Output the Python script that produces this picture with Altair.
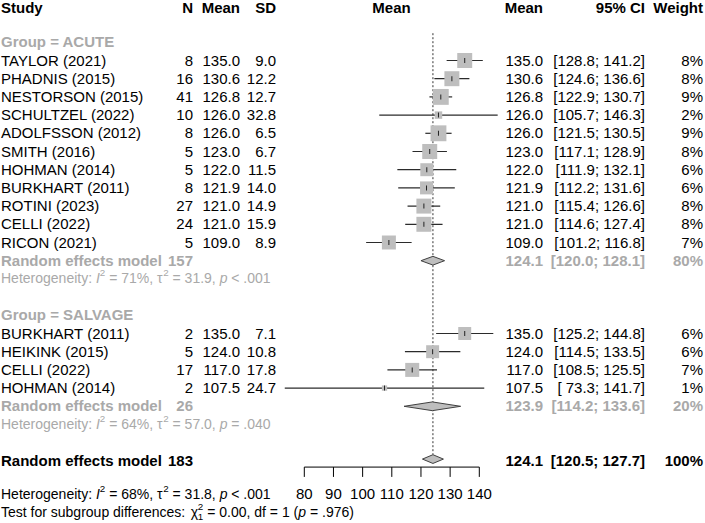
import altair as alt
import pandas as pd

# ---- study-level data -------------------------------------------------
acute_study = ["TAYLOR (2021)", "PHADNIS (2015)", "NESTORSON (2015)", "SCHULTZEL (2022)",
               "ADOLFSSON (2012)", "SMITH (2016)", "HOHMAN (2014)", "BURKHART (2011)",
               "ROTINI (2023)", "CELLI (2022)", "RICON (2021)"]
acute_n = [8, 16, 41, 10, 8, 5, 5, 8, 27, 24, 5]
acute_mean = [135.0, 130.6, 126.8, 126.0, 126.0, 123.0, 122.0, 121.9, 121.0, 121.0, 109.0]
acute_sd = [9.0, 12.2, 12.7, 32.8, 6.5, 6.7, 11.5, 14.0, 14.9, 15.9, 8.9]
acute_lo = [128.8, 124.6, 122.9, 105.7, 121.5, 117.1, 111.9, 112.2, 115.4, 114.6, 101.2]
acute_hi = [141.2, 136.6, 130.7, 146.3, 130.5, 128.9, 132.1, 131.6, 126.6, 127.4, 116.8]
acute_weight = [8, 8, 9, 2, 9, 8, 6, 6, 8, 8, 7]

salvage_study = ["BURKHART (2011)", "HEIKINK (2015)", "CELLI (2022)", "HOHMAN (2014)"]
salvage_n = [2, 5, 17, 2]
salvage_mean = [135.0, 124.0, 117.0, 107.5]
salvage_sd = [7.1, 10.8, 17.8, 24.7]
salvage_lo = [125.2, 114.5, 108.5, 73.3]
salvage_hi = [144.8, 133.5, 125.5, 141.7]
salvage_weight = [6, 6, 7, 1]

# pooled random-effects estimates: ACUTE, SALVAGE, overall
pooled_n = [157, 26, 183]
pooled_mean = [124.1, 123.9, 124.1]
pooled_lo = [120.0, 114.2, 120.5]
pooled_hi = [128.1, 133.6, 127.7]
pooled_weight = [80, 20, 100]
het_i2 = [71, 64, 68]
het_tau2 = [31.9, 57.0, 31.8]
het_p = ["< .001", "= .040", "< .001"]
subgroup_chi2 = "0.00"
subgroup_df = 1
subgroup_p = ".976"

axis_ticks = [80, 90, 100, 110, 120, 130, 140]

# ---- layout -------------------------------------------------------------
W, H = 705, 523
FONT = "Liberation Sans"
GREY = "#a9a9a9"
BLACK = "#000000"
ROW_H = 18.2
ROW0_PX = 60.5
Y0 = -ROW0_PX / ROW_H
Y1 = Y0 + H / ROW_H
PX_PER_UNIT = 175 / 60
X0 = 80 - 304.3 / PX_PER_UNIT
X1 = X0 + W / PX_PER_UNIT
SQUARE_AREA_PER_PCT = 28  # square area (px^2) per percent of weight
STAT_SIZE = 14.0

YSCALE = alt.Scale(domain=[Y0, Y1], range=[0, H], nice=False, zero=False)
XSCALE = alt.Scale(domain=[X0, X1], range=[0, W], nice=False, zero=False)


def Y(field="r"):
    return alt.Y(f"{field}:Q", scale=YSCALE, axis=None)


def X(field):
    return alt.X(f"{field}:Q", scale=XSCALE, axis=None)


# column anchors (pixels)
COL_STUDY = 1
COL_N = 193
COL_MEAN = 240
COL_SD = 276
COL_PLOT = 391.5
COL_EST = 543
COL_CI = 645
COL_W = 703

# Arial/Liberation advance widths (1/1000 em) for the rich-text lines
ADV = {" ": 278, "%": 889, "(": 333, ")": 333, ",": 278, ".": 278, ":": 278, ";": 278,
       "<": 584, "=": 584, "H": 722, "I": 278, "T": 611, "a": 556, "b": 556, "c": 500,
       "d": 556, "e": 556, "f": 278, "g": 556, "h": 556, "i": 222, "n": 556, "o": 556,
       "p": 556, "r": 333, "s": 500, "t": 278, "u": 556, "y": 500, "τ": 440, "χ": 500}


def adv(s, size):
    return sum(ADV.get(c, 556) for c in s) * size / 1000


def txt(rows, x, align="left", size=15, weight="normal", style="normal", color=BLACK, dy=0):
    df = pd.DataFrame(rows, columns=["r", "t"])
    return alt.Chart(df).mark_text(
        align=align, baseline="middle", font=FONT, fontSize=size,
        fontWeight=weight, fontStyle=style, color=color, dy=dy
    ).encode(x=alt.value(x), y=Y(), text="t:N")


def rich(parts, r, color, size=STAT_SIZE, x0=1.0):
    out = []
    x = x0
    small = size * 0.7
    for text, kind in parts:
        if kind in ("n", "i"):
            body = text.lstrip(" ")
            lead = adv(text[: len(text) - len(body)], size)
            out.append(txt([(r, body)], x + lead, size=size,
                           style="italic" if kind == "i" else "normal", color=color))
            x += adv(text, size)
        elif kind == "sup":
            out.append(txt([(r, text)], x, size=small, color=color, dy=-5.5))
            x += adv(text, small)
        else:  # stacked superscript / subscript
            sup, sub = text
            out.append(txt([(r, sup)], x, size=small, color=color, dy=-5.5))
            out.append(txt([(r, sub)], x, size=small, color=color, dy=4.5))
            x += max(adv(sup, small), adv(sub, small))
    return out


def het_parts(i):
    return [("Heterogeneity: ", "n"), ("I", "i"), ("2", "sup"),
            (f" = {het_i2[i]}%, ", "n"), ("τ", "n"), ("2", "sup"),
            (f" = {het_tau2[i]:.1f}, ", "n"), ("p", "i"), (f" {het_p[i]}", "n")]


# ---- row table for individual studies --------------------------------------
ACUTE_ROWS = list(range(0, 11))
SALVAGE_ROWS = list(range(15, 19))
POOLED_ROWS = [11, 19, 22]
HET_ROWS = [12, 20, 23.85]
HEADER_ROW = -2.9
GROUP_ROWS = [-1, 14]

studies = pd.DataFrame({
    "r": ACUTE_ROWS + SALVAGE_ROWS,
    "study": acute_study + salvage_study,
    "n": acute_n + salvage_n,
    "mean": acute_mean + salvage_mean,
    "sd": acute_sd + salvage_sd,
    "lo": acute_lo + salvage_lo,
    "hi": acute_hi + salvage_hi,
    "w": acute_weight + salvage_weight,
})
# weight squares: area proportional to the study weight
half_px = (studies["w"] * SQUARE_AREA_PER_PCT) ** 0.5 / 2
studies["sx1"] = studies["mean"] - half_px / PX_PER_UNIT
studies["sx2"] = studies["mean"] + half_px / PX_PER_UNIT
studies["sy1"] = studies["r"] - half_px / ROW_H
studies["sy2"] = studies["r"] + half_px / ROW_H

# ---- graphical marks --------------------------------------------------------
pooled = pd.DataFrame({"r": POOLED_ROWS, "mean": pooled_mean, "lo": pooled_lo,
                       "hi": pooled_hi})
pooled.loc[2, "r"] = 21.9
HALF = 0.24
dia_rows = []
for k, row in pooled.iterrows():
    dia_rows += [
        {"id": k, "x": row["lo"], "y": row["r"], "y2": row["r"]},
        {"id": k, "x": row["mean"], "y": row["r"] - HALF, "y2": row["r"] + HALF},
        {"id": k, "x": row["hi"], "y": row["r"], "y2": row["r"]},
    ]
diamonds = alt.Chart(pd.DataFrame(dia_rows)).mark_area(
    orient="vertical", fill="#bebebe", stroke="#404040", strokeWidth=1, opacity=1
).encode(x=X("x"), y=Y("y"), y2="y2:Q", detail="id:N")

ref_line = alt.Chart(pd.DataFrame({"v": [pooled_mean[2]], "y": [-1.5], "y2": [21.65]})).mark_rule(
    color="#333333", strokeWidth=1, strokeDash=[2, 2]
).encode(x=X("v"), y=Y("y"), y2="y2:Q")

ci_lines = alt.Chart(studies).mark_rule(color="#2b2b2b", strokeWidth=1.2).encode(
    x=X("lo"), x2="hi:Q", y=Y())

squares = alt.Chart(studies).mark_rect(color="#bebebe", opacity=1).encode(
    x=X("sx1"), x2="sx2:Q", y=Y("sy1"), y2="sy2:Q")

centres = alt.Chart(studies).mark_tick(
    orient="vertical", size=5, thickness=1, color="#222222", opacity=1
).encode(x=X("mean"), y=Y())

AXIS_Y, TICK_Y2, LABEL_Y = 22.34, 22.88, 23.82
axis_line = alt.Chart(pd.DataFrame({"a": [axis_ticks[0]], "b": [axis_ticks[-1]], "r": [AXIS_Y]})).mark_rule(
    color=BLACK, strokeWidth=1).encode(x=X("a"), x2="b:Q", y=Y())
ticks_df = pd.DataFrame({"v": axis_ticks, "r": AXIS_Y, "r2": TICK_Y2,
                         "lab": [str(t) for t in axis_ticks], "rl": LABEL_Y})
axis_ticks_m = alt.Chart(ticks_df).mark_rule(color=BLACK, strokeWidth=1).encode(
    x=X("v"), y=Y(), y2="r2:Q")
axis_labels = alt.Chart(ticks_df).mark_text(
    font=FONT, fontSize=15, baseline="middle", align="center", color=BLACK
).encode(x=X("v"), y=Y("rl"), text="lab:N")

# ---- text columns -----------------------------------------------------------
layers = [ref_line, ci_lines, squares, centres, diamonds, axis_line, axis_ticks_m, axis_labels]

# header
for label, x, align in [("Study", COL_STUDY, "left"), ("N", COL_N, "right"),
                        ("Mean", COL_MEAN, "right"), ("SD", COL_SD, "right"),
                        ("Mean", COL_PLOT, "center"), ("Mean", COL_EST, "right"),
                        ("95% CI", COL_CI, "right"), ("Weight", COL_W, "right")]:
    layers.append(txt([(HEADER_ROW, label)], x, align=align, weight="bold"))

# subgroup titles
layers.append(txt([(GROUP_ROWS[0], "Group = ACUTE"), (GROUP_ROWS[1], "Group = SALVAGE")],
                  COL_STUDY, weight="bold", color=GREY))

# study rows
rs = studies["r"].tolist()
layers.append(txt(list(zip(rs, studies["study"])), COL_STUDY))
layers.append(txt(list(zip(rs, studies["n"].astype(str))), COL_N, align="right"))
layers.append(txt(list(zip(rs, [f"{v:.1f}" for v in studies["mean"]])), COL_MEAN, align="right"))
layers.append(txt(list(zip(rs, [f"{v:.1f}" for v in studies["sd"]])), COL_SD, align="right"))
layers.append(txt(list(zip(rs, [f"{v:.1f}" for v in studies["mean"]])), COL_EST, align="right"))
layers.append(txt(list(zip(rs, [f"[{a:5.1f}; {b:5.1f}]" for a, b in zip(studies["lo"], studies["hi"])])),
                  COL_CI, align="right"))
layers.append(txt(list(zip(rs, [f"{w}%" for w in studies["w"]])), COL_W, align="right"))

# pooled rows
for i, r in enumerate(POOLED_ROWS):
    col = GREY if i < 2 else BLACK
    layers.append(txt([(r, "Random effects model")], COL_STUDY, weight="bold", color=col))
    layers.append(txt([(r, str(pooled_n[i]))], COL_N, align="right", weight="bold", color=col))
    layers.append(txt([(r, f"{pooled_mean[i]:.1f}")], COL_EST, align="right", weight="bold", color=col))
    layers.append(txt([(r, f"[{pooled_lo[i]:5.1f}; {pooled_hi[i]:5.1f}]")], COL_CI, align="right",
                      weight="bold", color=col))
    layers.append(txt([(r, f"{pooled_weight[i]}%")], COL_W, align="right", weight="bold", color=col))

# heterogeneity statistics
for i, r in enumerate(HET_ROWS):
    layers += rich(het_parts(i), r, GREY if i < 2 else BLACK)

layers += rich([("Test for subgroup differences: ", "n"), ("χ", "n"),
                (("2", str(subgroup_df)), "supsub"),
                (f" = {subgroup_chi2}, df = {subgroup_df} (", "n"), ("p", "i"),
                (f" = {subgroup_p})", "n")], 24.85, BLACK)

chart = alt.layer(*layers).properties(
    width=W, height=H, padding=0, autosize="none", background="white"
).configure_view(stroke=None)

chart.save("out.html", embed_options={"renderer": "svg", "actions": False})
